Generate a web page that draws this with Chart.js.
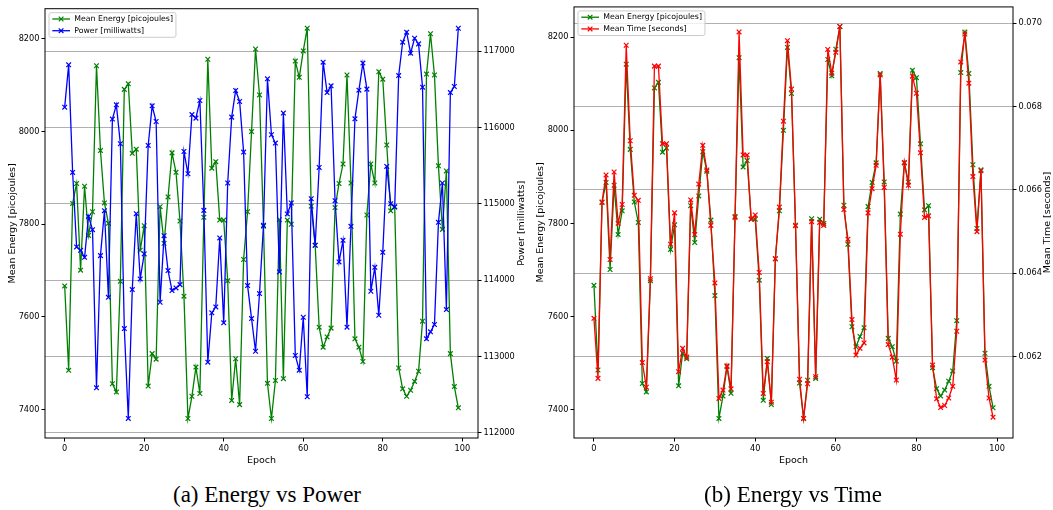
<!DOCTYPE html>
<html>
<head>
<meta charset="utf-8">
<script src="https://cdn.jsdelivr.net/npm/chart.js"></script>
<style>
  body { margin: 0; background: #fff; width: 1053px; height: 510px; position: relative; overflow: hidden; }
  canvas { position: absolute; top: 0; }
  .caption {
    position: absolute; top: 482px; width: 400px; text-align: center;
    font-family: 'Liberation Serif', 'Times New Roman', serif; font-size: 23px; line-height: 26px; color: #000;
  }
</style>
</head>
<body>
<canvas id="powerChart" width="530" height="475" style="left:0px"></canvas>
<canvas id="timeChart" width="525" height="475" style="left:528px"></canvas>
<div class="caption" style="left:67px">(a) Energy vs Power</div>
<div class="caption" style="left:593px">(b) Energy vs Time</div>
<script>
// values
const epochs = Array.from({ length: 100 }, (_, i) => i);

const energy = [
  7667, 7485, 7845, 7888, 7701, 7882, 7776, 7827, 8142, 7959,
  7846, 7802, 7456, 7438, 7677, 8091, 8103, 7953, 7962, 7744,
  7797, 7451, 7521, 7509, 7838, 7759, 7859, 7954, 7912, 7807,
  7645, 7381, 7429, 7492, 7435, 7815, 8156, 7921, 7935, 7809,
  7809, 7678, 7420, 7510, 7411, 7724, 7827, 8000, 8178, 8079,
  7796, 7457, 7381, 7463, 7810, 7467, 7809, 7800, 8152, 8117,
  8174, 8223, 7839, 7755, 7578, 7535, 7557, 7576, 7836, 7888,
  7930, 8122, 7889, 7553, 7535, 7504, 7820, 7930, 7889, 8129,
  8113, 7971, 7829, 7838, 7490, 7445, 7429, 7442, 7461, 7483,
  7591, 8124, 8211, 8122, 7926, 7789, 7915, 7521, 7450, 7404
];

const power = [
  116268, 116822, 115412, 114436, 114391, 114300, 114836, 114662, 112590, 114322,
  114911, 113776, 116111, 116298, 115788, 113366, 112188, 113877, 114872, 114017,
  114344, 115766, 116285, 116080, 113711, 114584, 114126, 113864, 113899, 113942,
  115687, 115395, 116170, 116124, 116355, 114915, 112926, 113572, 113650, 114554,
  113441, 115274, 116137, 116486, 116342, 115679, 113929, 113497, 113069, 113825,
  114719, 116639, 115906, 115797, 114108, 116190, 114868, 115012, 113013, 112821,
  113514, 112473, 115068, 114457, 115478, 116857, 116459, 116547, 115042, 114240,
  114522, 113384, 114706, 116115, 116490, 116845, 116504, 113855, 114169, 113541,
  114365, 115491, 115003, 114959, 116682, 117119, 117250, 116975, 117171, 117097,
  116530, 113232, 113323, 113419, 114758, 115274, 113615, 116459, 116538, 117302
];

const meanTime = [
  0.06292, 0.06148, 0.06571, 0.06636, 0.06433, 0.06643, 0.06520, 0.06565, 0.06947, 0.06718,
  0.06587, 0.06575, 0.06186, 0.06127, 0.06387, 0.06897, 0.06897, 0.06711, 0.06711, 0.06470,
  0.06545, 0.06164, 0.06220, 0.06199, 0.06576, 0.06493, 0.06614, 0.06707, 0.06648, 0.06515,
  0.06377, 0.06100, 0.06120, 0.06178, 0.06123, 0.06534, 0.06979, 0.06684, 0.06684, 0.06530,
  0.06540, 0.06402, 0.06112, 0.06188, 0.06091, 0.06435, 0.06559, 0.06765, 0.06958, 0.06842,
  0.06514, 0.06146, 0.06052, 0.06135, 0.06524, 0.06152, 0.06522, 0.06515, 0.06937, 0.06880,
  0.06930, 0.06992, 0.06553, 0.06482, 0.06289, 0.06204, 0.06220, 0.06233, 0.06545, 0.06603,
  0.06659, 0.06876, 0.06606, 0.06229, 0.06199, 0.06144, 0.06494, 0.06666, 0.06611, 0.06873,
  0.06832, 0.06689, 0.06534, 0.06538, 0.06180, 0.06099, 0.06078, 0.06083, 0.06101, 0.06129,
  0.06261, 0.06907, 0.06974, 0.06856, 0.06632, 0.06500, 0.06646, 0.06192, 0.06101, 0.06055
];

const epochTicks = [0, 20, 40, 60, 80, 100];
const energyTicks = [7400, 7600, 7800, 8000, 8200];
const powerTicks = [112000, 113000, 114000, 115000, 116000, 117000];
const timeTicks = [0.062, 0.064, 0.066, 0.068, 0.070];

Chart.defaults.font.family = "'DejaVu Sans', sans-serif";
Chart.defaults.font.size = 8.2;
Chart.defaults.color = '#000';

const pts = vals => vals.map((v, i) => ({ x: epochs[i], y: v }));
const setTicks = list => scale => { scale.ticks = list.map(v => ({ value: v })); };

// matplotlib-like frame, inner legend and right axis label
const decor = {
  id: 'decor',
  afterDraw(chart, args, opts) {
    const { ctx, chartArea: a } = chart;
    ctx.save();
    ctx.strokeStyle = '#000';
    ctx.lineWidth = 1;
    ctx.strokeRect(a.left, a.top, a.right - a.left, a.bottom - a.top);

    // legend
    const x0 = a.left + 4, y0 = a.top + 4;
    ctx.font = "7.8px 'DejaVu Sans'";
    const textW = Math.max(...opts.items.map(it => ctx.measureText(it.text).width));
    const w = 25.3 + textW + 3, h = 24.6;
    ctx.beginPath();
    if (ctx.roundRect) ctx.roundRect(x0, y0, w, h, 2); else ctx.rect(x0, y0, w, h);
    ctx.fillStyle = 'rgba(255,255,255,0.8)';
    ctx.fill();
    ctx.strokeStyle = '#cccccc';
    ctx.stroke();
    opts.items.forEach((it, k) => {
      const y = y0 + 6.3 + k * 11.7;
      ctx.strokeStyle = it.color;
      ctx.lineWidth = 1.3;
      ctx.beginPath();
      ctx.moveTo(x0 + 3.3, y);
      ctx.lineTo(x0 + 21, y);
      ctx.stroke();
      const cx = x0 + 12.1, r = 2.3;
      ctx.lineWidth = 1.2;
      ctx.beginPath();
      ctx.moveTo(cx - r, y - r); ctx.lineTo(cx + r, y + r);
      ctx.moveTo(cx - r, y + r); ctx.lineTo(cx + r, y - r);
      ctx.stroke();
      ctx.fillStyle = '#000';
      ctx.textBaseline = 'middle';
      ctx.textAlign = 'left';
      ctx.fillText(it.text, x0 + 25.3, y);
    });

    // right axis title, reading bottom to top
    const s = chart.scales.y1;
    ctx.translate(s.right - opts.titleOffset, (a.top + a.bottom) / 2);
    ctx.rotate(-Math.PI / 2);
    ctx.font = "9.5px 'DejaVu Sans'";
    ctx.fillStyle = '#000';
    ctx.textAlign = 'center';
    ctx.textBaseline = 'middle';
    ctx.fillText(opts.rightTitle, 0, 0);
    ctx.restore();
  }
};

function lineSet(label, values, color, axis, order) {
  return {
    label: label,
    data: pts(values),
    yAxisID: axis,
    order: order,
    borderColor: color,
    backgroundColor: color,
    borderWidth: 1.3,
    fill: false,
    tension: 0,
    pointStyle: 'crossRot',
    pointRadius: 3.3,
    pointBorderWidth: 1.2,
    pointBorderColor: color
  };
}

function makeChart(id, cfg) {
  return new Chart(document.getElementById(id), {
    type: 'line',
    data: { datasets: [
      lineSet('Mean Energy [picojoules]', energy, '#008000', 'y', 2),
      lineSet(cfg.label2, cfg.values2, cfg.color2, 'y1', 1)
    ] },
    plugins: [decor],
    options: {
      responsive: false,
      animation: false,
      devicePixelRatio: 1,
      layout: { padding: { top: cfg.top, left: 0, right: 0, bottom: 0 } },
      plugins: {
        legend: { display: false },
        tooltip: { enabled: false },
        decor: {
          items: [
            { text: 'Mean Energy [picojoules]', color: '#008000' },
            { text: cfg.label2, color: cfg.color2 }
          ],
          rightTitle: cfg.label2,
          titleOffset: cfg.titleOffset
        }
      },
      scales: {
        x: {
          type: 'linear',
          min: -4.95,
          max: 103.95,
          afterBuildTicks: setTicks(epochTicks),
          afterFit: s => { s.height = 37; },
          ticks: { padding: 2, maxRotation: 0 },
          grid: { drawOnChartArea: false, tickLength: 3.5, tickColor: '#000' },
          border: { display: false },
          title: { display: true, text: 'Epoch', font: { size: 9.5 }, padding: { top: 0, bottom: 9 } }
        },
        y: {
          position: 'left',
          min: 7339,
          max: 8265,
          afterBuildTicks: setTicks(energyTicks),
          afterFit: s => { s.width = cfg.leftW; },
          ticks: { padding: 2, callback: v => String(v) },
          grid: { drawOnChartArea: false, tickLength: 3.5, tickColor: '#000' },
          border: { display: false },
          title: { display: true, text: 'Mean Energy [picojoules]', font: { size: 9.5 }, padding: { top: 7, bottom: 0 } }
        },
        y1: {
          position: 'right',
          min: cfg.min2,
          max: cfg.max2,
          afterBuildTicks: setTicks(cfg.ticks2),
          afterFit: s => { s.width = cfg.rightW; },
          ticks: { padding: 2, callback: cfg.fmt2 },
          grid: { drawOnChartArea: true, color: '#b0b0b0', lineWidth: 1, tickLength: 3.5, tickColor: '#000' },
          border: { display: false }
        }
      }
    }
  });
}

makeChart('powerChart', {
  label2: 'Power [milliwatts]',
  values2: power,
  color2: '#0000ff',
  min2: 111932,
  max2: 117558,
  ticks2: powerTicks,
  fmt2: v => String(v),
  top: 8.7,
  leftW: 45,
  rightW: 52,
  titleOffset: 8
});

makeChart('timeChart', {
  label2: 'Mean Time [seconds]',
  values2: meanTime,
  color2: '#ff0000',
  min2: 0.06005,
  max2: 0.07039,
  ticks2: timeTicks,
  fmt2: v => v.toFixed(3),
  top: 1.5,
  leftW: 46,
  rightW: 40,
  titleOffset: 5.5
});
</script>
</body>
</html>
